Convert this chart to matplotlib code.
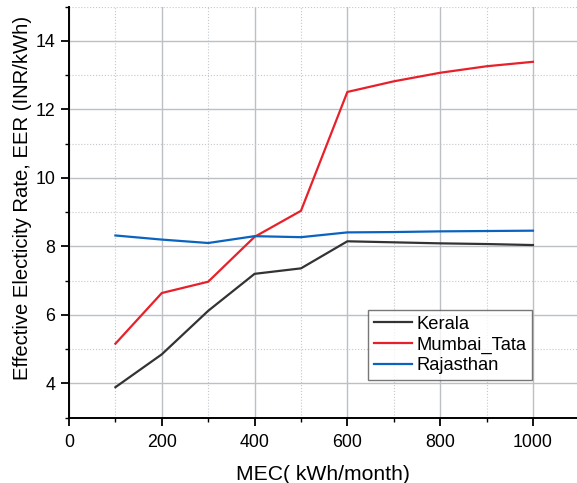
import matplotlib.pyplot as plt
from matplotlib.ticker import MultipleLocator

plt.rcParams['font.family'] = ['Liberation Sans', 'DejaVu Sans']

# monthly electricity consumption (kWh/month)
mec = [100, 200, 300, 400, 500, 600, 700, 800, 900, 1000]

# effective electricity rate (INR/kWh)
kerala = [3.89, 4.85, 6.12, 7.20, 7.36, 8.15, 8.12, 8.09, 8.07, 8.04]
mumbai_tata = [5.16, 6.64, 6.97, 8.28, 9.04, 12.51, 12.82, 13.07, 13.26, 13.39]
rajasthan = [8.32, 8.20, 8.10, 8.30, 8.27, 8.41, 8.42, 8.44, 8.45, 8.46]

fig = plt.figure(figsize=(5.77, 4.83), dpi=100)
ax = fig.add_axes([0.1196, 0.1352, 0.8804, 0.851])

ax.plot(mec, kerala, color="#333333", lw=1.6, label="Kerala")
ax.plot(mec, mumbai_tata, color="#e8202a", lw=1.6, label="Mumbai_Tata")
ax.plot(mec, rajasthan, color="#0b63c0", lw=1.6, label="Rajasthan")

ax.set_xlim(0, 1095)
ax.set_ylim(3, 15)
ax.xaxis.set_minor_locator(MultipleLocator(100))
ax.yaxis.set_minor_locator(MultipleLocator(1))
ax.set_yticks([4, 6, 8, 10, 12, 14])
ax.set_xticks([0, 200, 400, 600, 800, 1000])

ax.grid(which="major", color="#bcc0c4", lw=1.0, ls="-")
ax.grid(which="minor", color="#c4c8cc", lw=0.8, ls=":")
ax.set_axisbelow(True)

for s in ["top", "right"]:
    ax.spines[s].set_visible(False)
for s in ["left", "bottom"]:
    ax.spines[s].set_linewidth(1.4)

ax.tick_params(which="major", direction="out", length=6, width=1.3, labelsize=12.8)
ax.tick_params(axis="x", which="major", pad=6)
ax.tick_params(axis="y", which="major", pad=4)
ax.tick_params(which="minor", direction="out", length=3, width=1.0)

ax.set_xlabel("MEC( kWh/month)", fontsize=15.2, labelpad=10)
ax.set_ylabel("Effective Electicity Rate, EER (INR/kWh)", fontsize=14.6)
ax.yaxis.set_label_coords(-0.073, 0.535)

leg = ax.legend(loc="lower left", bbox_to_anchor=(0.589, 0.092), fontsize=13.2,
                frameon=True, fancybox=False, handlelength=2.1, handletextpad=0.25,
                borderpad=0.3, labelspacing=0.2, borderaxespad=0)
leg.get_frame().set_edgecolor("#555555")
leg.get_frame().set_linewidth(1.0)

fig.savefig("out.png", dpi=100)
